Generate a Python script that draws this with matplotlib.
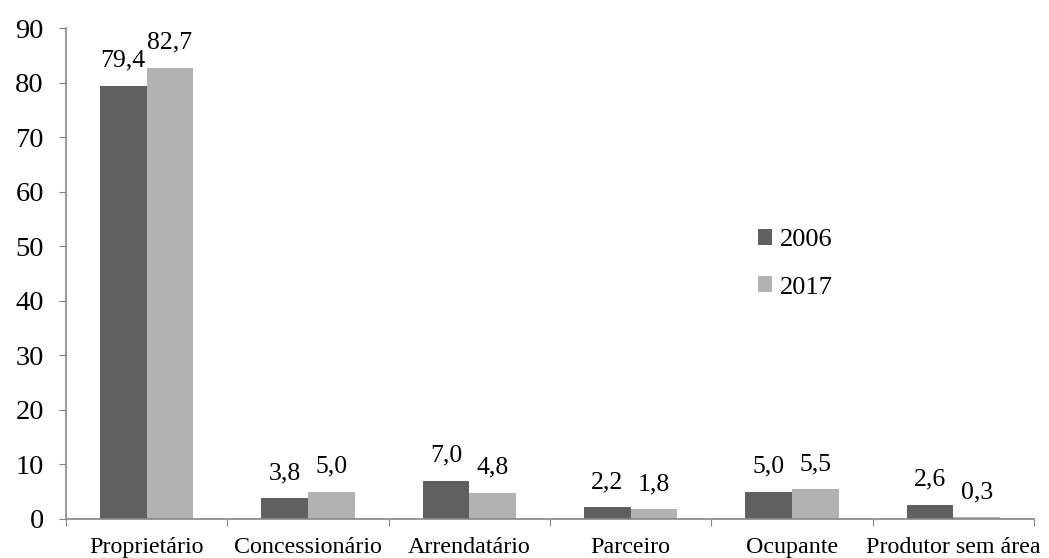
import matplotlib
matplotlib.use("Agg")
import matplotlib.pyplot as plt
import numpy as np

categories = ["Proprietário", "Concessionário", "Arrendatário", "Parceiro", "Ocupante", "Produtor sem área"]
years = ["2006", "2017"]
values_2006 = [79.4, 3.8, 7.0, 2.2, 5.0, 2.6]
values_2017 = [82.7, 5.0, 4.8, 1.8, 5.5, 0.3]
yticks = [0, 10, 20, 30, 40, 50, 60, 70, 80, 90]

plt.rcParams["font.family"] = ["Liberation Serif", "DejaVu Serif"]

dark = "#606060"
light = "#b2b2b2"
axis_col = "#868686"

fig = plt.figure(figsize=(10.49, 5.58), dpi=100)
ax = fig.add_axes([0.0629, 0.0699, 0.9228, 0.8799])

x = np.arange(len(categories))
w = 0.29
b1 = ax.bar(x - w / 2, values_2006, w, color=dark, label=years[0])
b2 = ax.bar(x + w / 2, values_2017, w, color=light, label=years[1])

def fmt(v):
    return f"{v:.1f}".replace(".", ",")

for bars, vals in ((b1, values_2006), (b2, values_2017)):
    for rect, v in zip(bars, vals):
        ax.annotate(fmt(v), (rect.get_x() + rect.get_width() / 2, v),
                    xytext=(0, 10), textcoords="offset points",
                    ha="center", va="bottom", fontsize=18.5)

ax.set_xlim(-0.5, len(categories) - 0.5)
ax.set_ylim(0, 90)
ax.set_yticks(yticks)
ax.tick_params(axis="y", labelsize=20.5, direction="out", length=5, color=axis_col, pad=11)

# category boundaries as major ticks, names on minor ticks
ax.set_xticks(np.arange(len(categories) + 1) - 0.5)
ax.set_xticklabels([])
ax.set_xticks(x, minor=True)
ax.set_xticklabels(categories, minor=True)
ax.tick_params(axis="x", which="major", direction="out", length=5, color=axis_col)
ax.tick_params(axis="x", which="minor", length=0, labelsize=17.3, pad=13)

for s in ("top", "right"):
    ax.spines[s].set_visible(False)
for s in ("left", "bottom"):
    ax.spines[s].set_color(axis_col)
    ax.spines[s].set_linewidth(1.2)

leg = ax.legend(loc="center left", bbox_to_anchor=(0.69, 0.52), frameon=False,
                fontsize=19, handlelength=0.55, handleheight=0.55, handletextpad=0.3,
                labelspacing=0.95)

fig.savefig("out.png", dpi=100)
